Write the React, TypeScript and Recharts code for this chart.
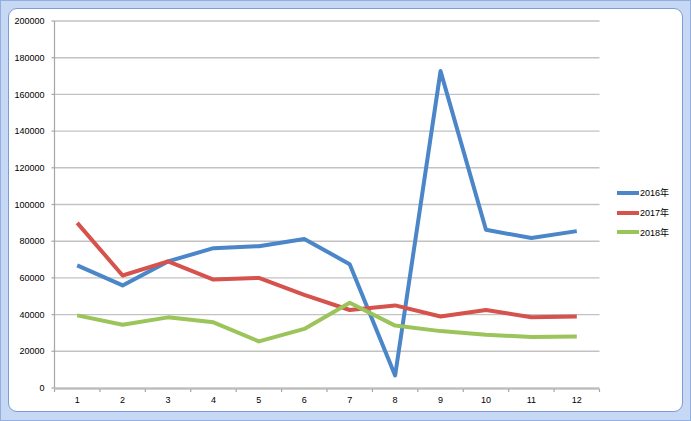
import { CartesianGrid, Line, LineChart, XAxis, YAxis } from "recharts";

const MONTHS = ["1", "2", "3", "4", "5", "6", "7", "8", "9", "10", "11", "12"];

const SALES_2016 = [66800, 55900, 69000, 76200, 77300, 81200, 67500, 6800, 172700, 86200, 81700, 85500];
const SALES_2017 = [90000, 61300, 69000, 59100, 60000, 50700, 42500, 45000, 39000, 42500, 38600, 39000];
const SALES_2018 = [39600, 34500, 38500, 35800, 25400, 32200, 46500, 34000, 31000, 29000, 27800, 28000];

const Y_TICKS = [0, 20000, 40000, 60000, 80000, 100000, 120000, 140000, 160000, 180000, 200000];
const SLOT_TICKS = [0, 1, 2, 3, 4, 5, 6, 7, 8, 9, 10, 11, 12];

const SERIES = [
  { key: "y2016", name: "2016年", color: "#4a86c8", values: SALES_2016 },
  { key: "y2017", name: "2017年", color: "#d6524d", values: SALES_2017 },
  { key: "y2018", name: "2018年", color: "#9bc45a", values: SALES_2018 },
];

// slot index lets the second (tick-only) axis put its marks between the months
const chartData = MONTHS.map((month, i) => {
  const row: Record<string, string | number> = { month, slot: i + 0.5 };
  SERIES.forEach((s) => {
    row[s.key] = s.values[i];
  });
  return row;
});

const FONT = '"Liberation Sans", Arial, "Noto Sans CJK SC", sans-serif';
const tickStyle = { fontSize: 9, fill: "#000", fontFamily: FONT };

export default function App() {
  return (
    <div
      style={{
        position: "absolute",
        top: 0,
        left: 0,
        width: 691,
        height: 421,
        boxSizing: "border-box",
        background: "#c6d8f4",
        border: "1px solid #93afe0",
        fontFamily: FONT,
      }}
    >
      <div
        style={{
          position: "absolute",
          left: 7,
          top: 7,
          width: 673,
          height: 402,
          background: "#fff",
          border: "1px solid #7b9cd6",
          borderRadius: 9,
        }}
      />
      <div style={{ position: "absolute", left: -1, top: -1 }}>
        <LineChart
          width={691}
          height={421}
          data={chartData}
          margin={{ top: 21, right: 91.5, left: 0, bottom: 31 }}
        >
          <CartesianGrid vertical={false} stroke="#c2c2c2" strokeWidth={1.4} />
          <XAxis
            xAxisId="slots"
            dataKey="slot"
            type="number"
            domain={[0, 12]}
            allowDataOverflow
            ticks={SLOT_TICKS}
            interval={0}
            height={1}
            tickSize={3}
            tickFormatter={() => ""}
            axisLine={{ stroke: "#a6a6a6", strokeWidth: 1.2 }}
            tickLine={{ stroke: "#a6a6a6", strokeWidth: 1.2 }}
          />
          <XAxis
            dataKey="month"
            height={1}
            padding={{ left: 22.7, right: 22.7 }}
            axisLine={false}
            tickLine={false}
            tickSize={0}
            tickMargin={9}
            interval={0}
            tick={tickStyle}
          />
          <YAxis
            width={54.5}
            domain={[0, 200000]}
            ticks={Y_TICKS}
            interval={0}
            tickSize={3}
            tickMargin={7}
            tick={tickStyle}
            axisLine={{ stroke: "#a6a6a6", strokeWidth: 1.2 }}
            tickLine={{ stroke: "#a6a6a6", strokeWidth: 1.2 }}
          />
          {SERIES.map((s) => (
            <Line
              key={s.key}
              type="linear"
              dataKey={s.key}
              name={s.name}
              stroke={s.color}
              strokeWidth={4}
              strokeLinejoin="round"
              dot={false}
              activeDot={false}
              isAnimationActive={false}
            />
          ))}
        </LineChart>
      </div>
      <div style={{ position: "absolute", left: 616, top: 182 }}>
        {SERIES.map((s) => (
          <div key={s.key} style={{ display: "flex", alignItems: "center", height: 19.7 }}>
            <div style={{ width: 22, height: 4, background: s.color }} />
            <span style={{ fontSize: 9, color: "#000", marginLeft: 1 }}>{s.name}</span>
          </div>
        ))}
      </div>
    </div>
  );
}
